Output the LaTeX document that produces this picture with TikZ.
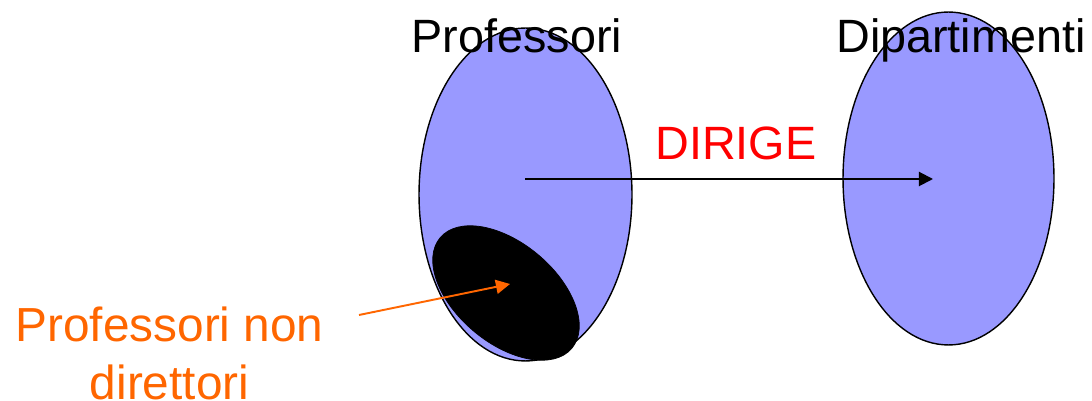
\documentclass[tikz,border=0pt]{standalone}
\usepackage{fontspec}
\setmainfont{Liberation Sans}
\usepackage{tikz}
\usetikzlibrary{arrows.meta,shapes.geometric}
\definecolor{insiemeblu}{RGB}{153,153,255}
\definecolor{arancio}{RGB}{255,102,0}

\begin{document}
\begin{tikzpicture}[
  x=0.02cm, y=-0.02cm,
  insieme/.style={draw, ellipse, fill=insiemeblu, line width=0.8pt, inner sep=0pt},
  nome/.style={anchor=base, inner sep=0pt, font=\fontsize{26.6}{30}\selectfont},
  freccia/.style={-{Triangle[length=8pt, width=8pt]}, line width=1.1pt}
]
\useasboundingbox (0,0) rectangle (1092,401);
\node[insieme, minimum width=4.26cm, minimum height=6.66cm] (prof) at (525.5,194.5) {};
\node[insieme, minimum width=4.22cm, minimum height=6.66cm] (dip) at (948.5,178.5) {};
\node[draw, ellipse, fill=black, rotate=-40, minimum width=3.44cm, minimum height=2.0cm, inner sep=0pt] (nondir) at (506,293) {};
\coordinate (da) at (525,179);
\coordinate (a) at (933,179);
\draw[freccia] (da) -- (a);
\node[nome] (lprof) at (517,53) {Professori};
\node[nome] (ldip) at (961,53) {Dipartimenti};
\node[nome, text=red] (rel) at (736,160) {DIRIGE};
\node[nome, anchor=north, align=center, text=arancio, font=\fontsize{27.2}{32.5}\selectfont] (lnon) at (169.5,307) {Professori non\\direttori};
\coordinate (puntaNon) at (510,284);
\draw[freccia, draw=arancio, fill=arancio] (359,315) coordinate (codaNon) -- (puntaNon);
\end{tikzpicture}
\end{document}
